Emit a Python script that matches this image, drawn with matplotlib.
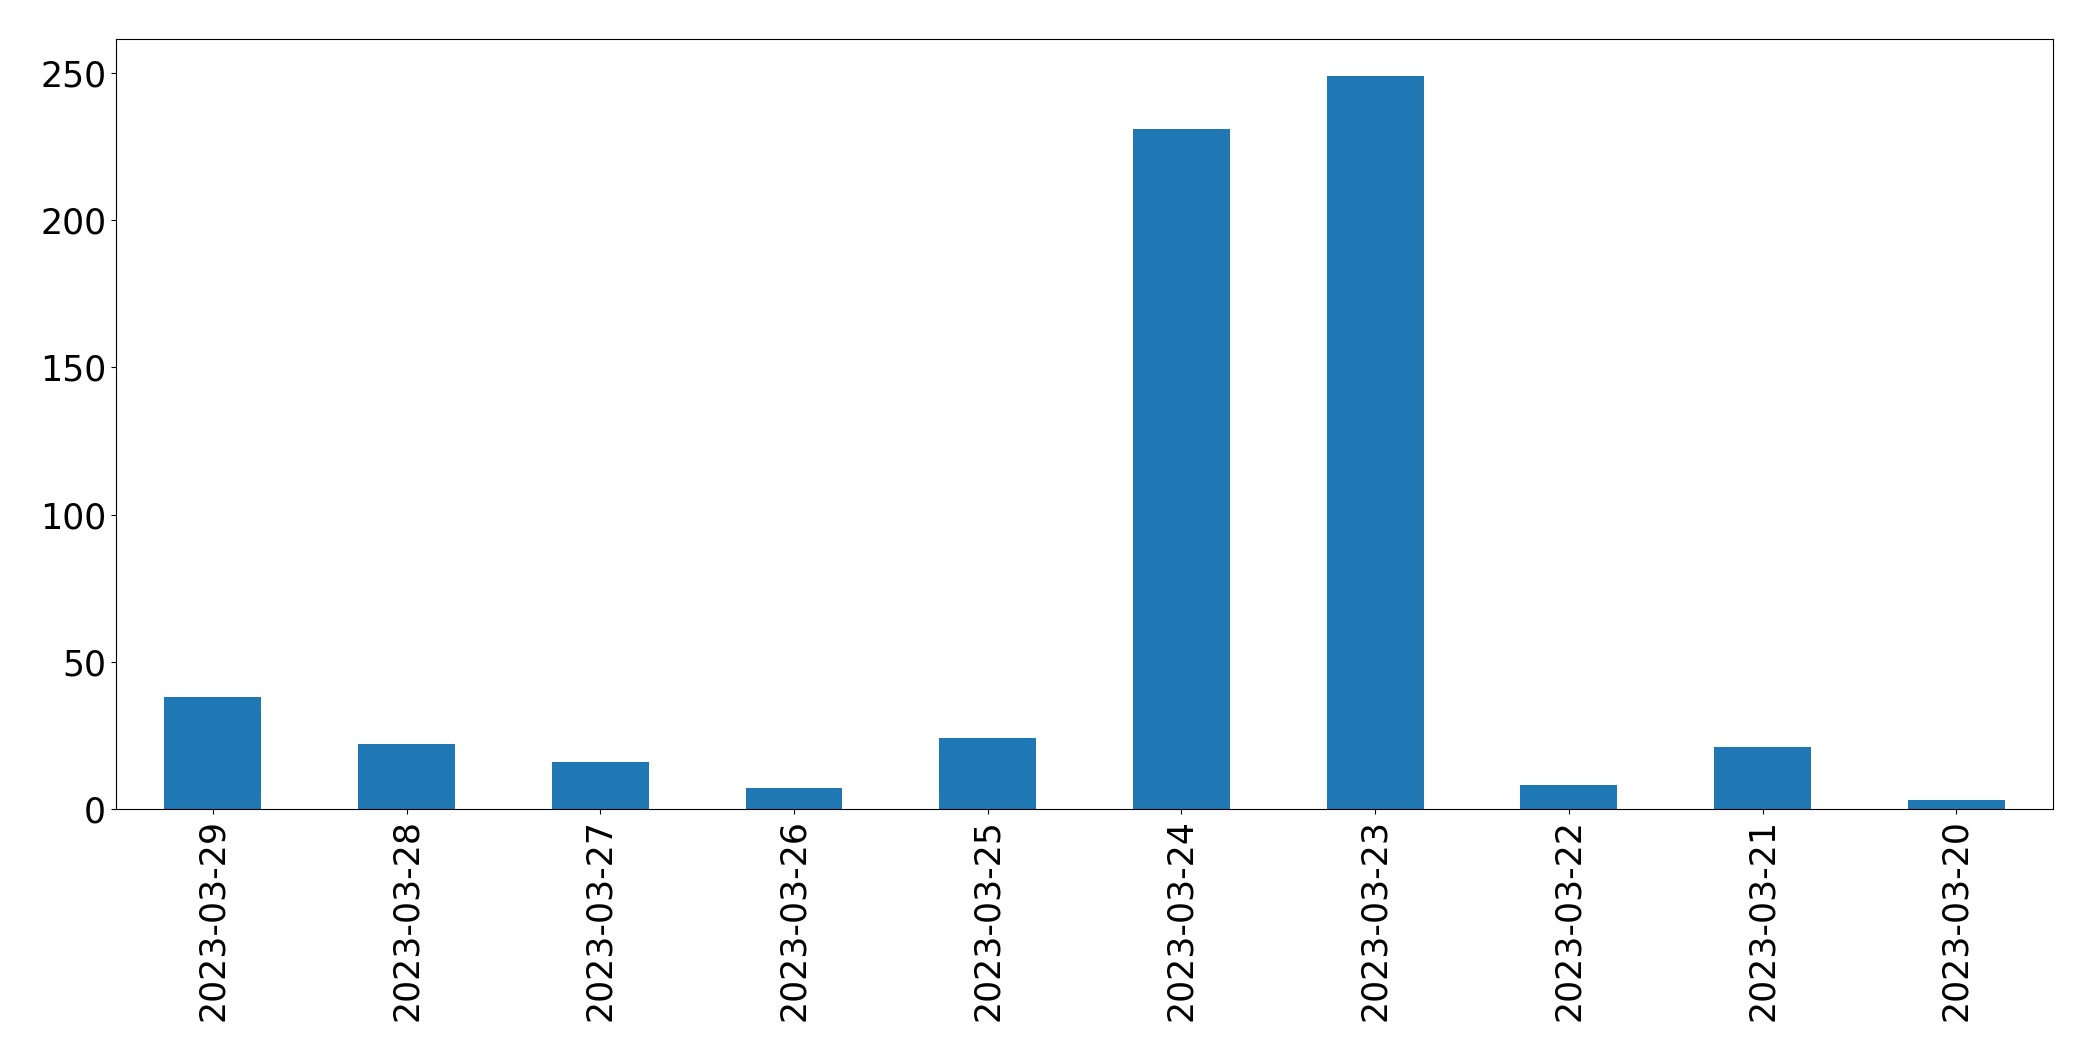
import matplotlib.pyplot as plt
import numpy as np

dates = ['2023-03-29', '2023-03-28', '2023-03-27', '2023-03-26', '2023-03-25',
         '2023-03-24', '2023-03-23', '2023-03-22', '2023-03-21', '2023-03-20']
counts = [38, 22, 16, 7, 24, 231, 249, 8, 21, 3]

fig = plt.figure(figsize=(20.93, 10.61), dpi=100)
ax = fig.add_axes([0.0554, 0.2375, 0.9256, 0.7255])

x = np.arange(len(dates))
ax.bar(x, counts, width=0.5, color='#1f77b4')
ax.set_xlim(-0.5, len(dates) - 0.5)
ax.set_ylim(0, max(counts) * 1.05)
ax.set_xticks(x)
ax.set_xticklabels(dates, rotation=90)
ax.tick_params(labelsize=25)

fig.savefig('out.png', dpi=100)
